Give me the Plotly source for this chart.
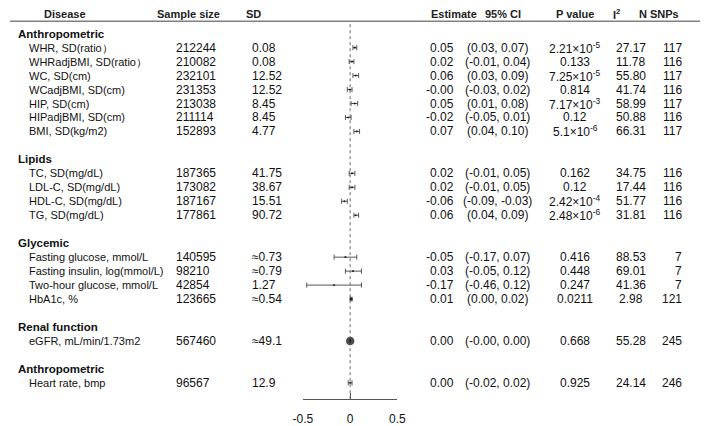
import numpy as np
import plotly.graph_objects as go

# ---------------- data ----------------
groups = ["Anthropometric", "Lipids", "Glycemic", "Renal function", "Anthropometric"]
group_sizes = [7, 4, 4, 1, 1]
labels = [
    "WHR, SD(ratio）", "WHRadjBMI, SD(ratio）", "WC, SD(cm)", "WCadjBMI, SD(cm)",
    "HIP, SD(cm)", "HIPadjBMI, SD(cm)", "BMI, SD(kg/m2)",
    "TC, SD(mg/dL)", "LDL-C, SD(mg/dL)", "HDL-C, SD(mg/dL)", "TG, SD(mg/dL)",
    "Fasting glucose, mmol/L", "Fasting insulin, log(mmol/L)", "Two-hour glucose, mmol/L", "HbA1c, %",
    "eGFR, mL/min/1.73m2",
    "Heart rate, bmp",
]
sample_size = ["212244", "210082", "232101", "231353", "213038", "211114", "152893",
               "187365", "173082", "187167", "177861",
               "140595", "98210", "42854", "123665",
               "567460", "96567"]
sd_text = ["0.08", "0.08", "12.52", "12.52", "8.45", "8.45", "4.77",
           "41.75", "38.67", "15.51", "90.72",
           "≈0.73", "≈0.79", "1.27", "≈0.54",
           "≈49.1", "12.9"]
estimate = [0.05, 0.02, 0.06, -0.004, 0.05, -0.02, 0.07,
            0.02, 0.02, -0.06, 0.06,
            -0.05, 0.03, -0.17, 0.01,
            0.0004, 0.001]
ci_low = [0.03, -0.01, 0.03, -0.03, 0.01, -0.05, 0.04,
          -0.01, -0.01, -0.09, 0.04,
          -0.17, -0.05, -0.46, 0.002,
          -0.002, -0.02]
ci_high = [0.07, 0.04, 0.09, 0.02, 0.08, 0.01, 0.10,
           0.05, 0.05, -0.03, 0.09,
           0.07, 0.12, 0.12, 0.02,
           0.002, 0.02]
p_text = ["2.21×10<sup>-5</sup>", "0.133", "7.25×10<sup>-5</sup>", "0.814",
          "7.17×10<sup>-3</sup>", "0.12", "5.1×10<sup>-6</sup>",
          "0.162", "0.12", "2.42×10<sup>-4</sup>", "2.48×10<sup>-6</sup>",
          "0.416", "0.448", "0.247", "0.0211",
          "0.668", "0.925"]
i2 = ["27.17", "11.78", "55.80", "41.74", "58.99", "50.88", "66.31",
      "34.75", "17.44", "51.77", "31.81",
      "88.53", "69.01", "41.36", "2.98",
      "55.28", "24.14"]
n_snps = [117, 116, 117, 116, 117, 116, 117,
          116, 116, 116, 116,
          7, 7, 7, 121,
          245, 246]
headers = ["Disease", "Sample size", "SD", "Estimate", "95% CI", "P value", "I<sup>2</sup>", "N SNPs"]
x_ticks = [-0.5, 0, 0.5]

# ---------------- layout helpers ----------------
W, H = 709, 426
FONT = "Liberation Sans, Arial, sans-serif"
FS_NUM = 12
FS_LAB = 11
FS_HEAD = 11
FS_GROUP = 11.5
ROW0_PX, ROW_PX = 34, 14.1
AXIS_PX = 403

def px_x(v):
    return v / W

# rows
group_rows, item_rows = [], []
r = 0
for g, n in zip(groups, group_sizes):
    group_rows.append(r)
    r += 1
    for _ in range(n):
        item_rows.append(r)
        r += 1
    r += 1

est = np.array(estimate)
lo = np.array(ci_low)
hi = np.array(ci_high)
hw = np.maximum((hi - lo) / 2, 0.002)
msize = np.clip(2.2 * (0.02 / hw) ** 0.6, 2.2, 8.5)

fig = go.Figure()
fig.add_trace(go.Scatter(
    x=est, y=item_rows, mode="markers",
    marker=dict(color="black", size=msize, symbol="circle", line=dict(width=0)),
    error_x=dict(type="data", array=hi - est, arrayminus=est - lo,
                 color="#555555", thickness=1, width=2.5),
    hoverinfo="skip", showlegend=False,
))

annotations = []
def add(text, xpx, y, anchor, size, bold=False, yref="y", color="#111111"):
    annotations.append(dict(
        text=f"<b>{text}</b>" if bold else text, x=px_x(xpx), xref="paper",
        y=y, yref=yref, xanchor=anchor, yanchor="middle", showarrow=False,
        borderpad=0, font=dict(family=FONT, size=size, color=color)))

# headers
hy = 1 - 14 / H
head_pos = [(57, "center"), (183, "center"), (241, "left"), (456, "center"),
            (507, "center"), (581, "center"), (619, "left"), (667, "center")]
for t, (xp, a) in zip(headers, head_pos):
    add(t, xp, hy, a, FS_HEAD, bold=True, yref="paper", color="#222222")

for g, gr in zip(groups, group_rows):
    add(g, 7, gr, "left", FS_GROUP, bold=True)

for i, rr in enumerate(item_rows):
    add(labels[i], 18, rr, "left", FS_LAB)
    add(sample_size[i], 170, rr, "left", FS_NUM)
    add(sd_text[i], 248, rr, "left", FS_NUM)
    add(f"{estimate[i]:.2f}", 457, rr, "right", FS_NUM)
    add(f"({ci_low[i]:.2f}, {ci_high[i]:.2f})", 501, rr, "center", FS_NUM)
    add(p_text[i], 581, rr, "center", FS_NUM)
    add(i2[i], 638, rr, "center", FS_NUM)
    add(str(n_snps[i]), 692, rr, "right", FS_NUM)

y_top = (0 - ROW0_PX) / ROW_PX
y_bot = (AXIS_PX - ROW0_PX) / ROW_PX

shapes = [
    dict(type="line", xref="paper", yref="paper", x0=0, x1=1,
         y0=1 - 21.5 / H, y1=1 - 21.5 / H, line=dict(color="#808080", width=1.5)),
    dict(type="line", xref="x", yref="paper", x0=0, x1=0,
         y0=(H - AXIS_PX) / H, y1=1 - 21.5 / H,
         line=dict(color="#666666", width=1, dash="dot")),
]

fig.update_layout(
    width=W, height=H, margin=dict(l=0, r=0, t=0, b=0),
    paper_bgcolor="white", plot_bgcolor="rgba(0,0,0,0)",
    annotations=annotations, shapes=shapes,
    xaxis=dict(domain=[px_x(301), px_x(398)], range=[-0.5, 0.5],
               showline=True, linecolor="#555555", linewidth=1,
               ticks="inside", ticklen=6, tickcolor="#555555", tickwidth=1,
               tickvals=x_ticks, ticktext=[str(v) for v in x_ticks],
               ticklabelstandoff=8,
               showgrid=False, zeroline=False, fixedrange=True,
               tickfont=dict(family=FONT, size=FS_NUM, color="#111111")),
    yaxis=dict(domain=[(H - AXIS_PX) / H, 1], range=[y_bot, y_top],
               showline=False, showgrid=False, zeroline=False,
               showticklabels=False, ticks="", fixedrange=True),
)

fig.write_html("out.html", config={"displayModeBar": False},
               post_script="document.body.style.margin='0';document.body.style.overflow='hidden';")
